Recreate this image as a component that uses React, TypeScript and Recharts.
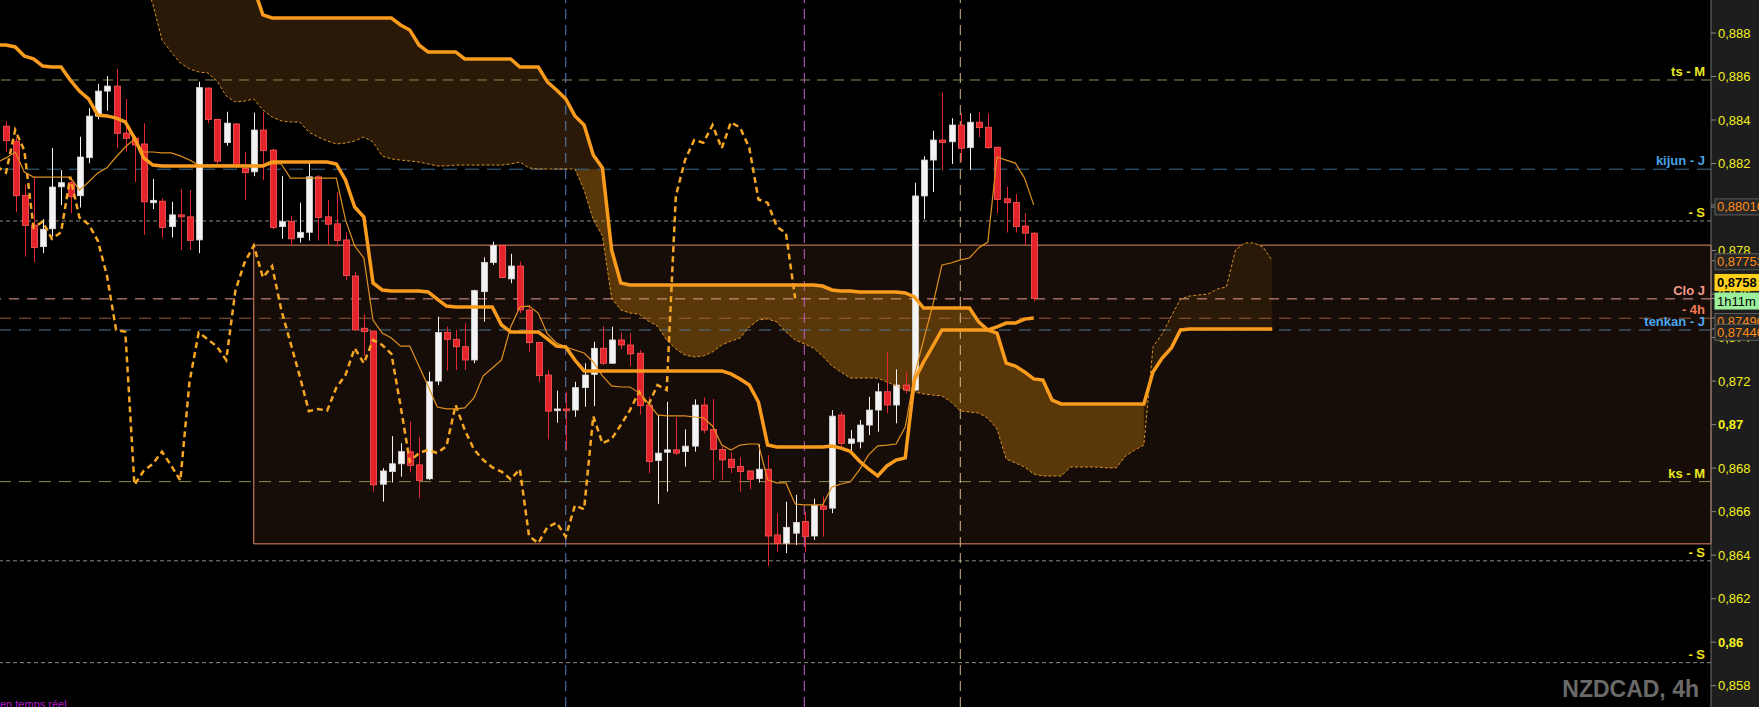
import React from 'react';
import { ComposedChart, Bar, Line, Area, XAxis, YAxis, ReferenceLine, ReferenceArea } from 'recharts';

// NZDCAD 4h candles (index 0 = first visible candle)
const opens = [
  0.88372, 0.88303, 0.88054, 0.87917, 0.87818, 0.879, 0.88093, 0.88112, 0.88052, 0.88227,
  0.88418, 0.88533, 0.88556, 0.8834, 0.88317, 0.8829, 0.8802, 0.88027, 0.8791, 0.87964,
  0.87955, 0.87849, 0.88547, 0.88403, 0.88296, 0.88382, 0.88178, 0.88162, 0.88354, 0.88262,
  0.8791, 0.87933, 0.8786, 0.87884, 0.88139, 0.87955, 0.87923, 0.87849, 0.87683, 0.87443,
  0.8743, 0.86726, 0.86784, 0.8682, 0.86875, 0.86815, 0.86751, 0.872, 0.87423, 0.87392,
  0.87358, 0.87297, 0.87611, 0.87745, 0.87823, 0.8767, 0.87729, 0.87527, 0.87377, 0.87228,
  0.87064, 0.87072, 0.87067, 0.8717, 0.87231, 0.87351, 0.87282, 0.87389, 0.87366, 0.87328,
  0.8709, 0.86835, 0.86873, 0.86884, 0.86876, 0.86901, 0.8709, 0.86978, 0.86886, 0.86841,
  0.86807, 0.86787, 0.86752, 0.86795, 0.86493, 0.86455, 0.86501, 0.86554, 0.86488, 0.86626,
  0.86616, 0.87044, 0.86914, 0.86921, 0.86998, 0.87067, 0.87151, 0.8709, 0.87182, 0.87159,
  0.88051, 0.88216, 0.88308, 0.883, 0.88377, 0.88273, 0.8839, 0.88367, 0.88275, 0.88038,
  0.88021, 0.87913, 0.8788,
];
const highs = [
  0.88395, 0.88322, 0.88104, 0.88139, 0.87944, 0.88271, 0.8817, 0.88132, 0.88323, 0.88454,
  0.88566, 0.88602, 0.88635, 0.88497, 0.88326, 0.88385, 0.88129, 0.8804, 0.88024, 0.88081,
  0.88078, 0.88576, 0.8855, 0.88406, 0.88438, 0.88385, 0.88254, 0.88434, 0.88438, 0.88267,
  0.88142, 0.87959, 0.8802, 0.88204, 0.88147, 0.88032, 0.88069, 0.87884, 0.87703, 0.87507,
  0.87432, 0.868, 0.86947, 0.86914, 0.87013, 0.86944, 0.87243, 0.87496, 0.8745, 0.87435,
  0.87466, 0.8762, 0.87769, 0.87841, 0.87826, 0.87785, 0.87749, 0.8755, 0.8738, 0.87251,
  0.87156, 0.87151, 0.87197, 0.87282, 0.87381, 0.87453, 0.8745, 0.87423, 0.8742, 0.87343,
  0.87128, 0.87044, 0.87105, 0.87033, 0.86978, 0.87116, 0.87125, 0.87118, 0.86898, 0.86873,
  0.8685, 0.8679, 0.86909, 0.86861, 0.86593, 0.86646, 0.86677, 0.866, 0.86659, 0.86669,
  0.87067, 0.87059, 0.86975, 0.87021, 0.87128, 0.8719, 0.87335, 0.87254, 0.87243, 0.88112,
  0.88234, 0.88351, 0.88526, 0.88408, 0.88431, 0.88431, 0.88438, 0.88431, 0.88278, 0.88093,
  0.8806, 0.87972, 0.87887,
];
const lows = [
  0.88254, 0.87976, 0.87772, 0.87746, 0.87788, 0.87864, 0.88009, 0.87972, 0.87998, 0.88201,
  0.88403, 0.88443, 0.8827, 0.88254, 0.88115, 0.87872, 0.87991, 0.8786, 0.8786, 0.87803,
  0.87803, 0.87788, 0.88385, 0.88193, 0.88282, 0.88179, 0.88032, 0.88142, 0.88124, 0.87898,
  0.87854, 0.87826, 0.87837, 0.87846, 0.87846, 0.87826, 0.87818, 0.87665, 0.87432, 0.87315,
  0.86692, 0.86646, 0.86734, 0.86761, 0.8678, 0.86662, 0.86746, 0.87182, 0.87248, 0.87251,
  0.87251, 0.87282, 0.87473, 0.87734, 0.87674, 0.8765, 0.87512, 0.87335, 0.87197, 0.86932,
  0.87009, 0.86884, 0.87036, 0.87082, 0.87085, 0.87274, 0.87279, 0.87346, 0.87269, 0.87047,
  0.86777, 0.86636, 0.86692, 0.86861, 0.86807, 0.86876, 0.8696, 0.86746, 0.86746, 0.86777,
  0.86692, 0.86703, 0.86734, 0.8635, 0.86415, 0.8641, 0.86447, 0.86415, 0.8647, 0.86485,
  0.86593, 0.86891, 0.86875, 0.86891, 0.86952, 0.86967, 0.87052, 0.87006, 0.87144, 0.87155,
  0.87944, 0.88069, 0.8817, 0.88198, 0.88208, 0.8817, 0.88321, 0.88267, 0.87972, 0.87883,
  0.87883, 0.87826, 0.87565,
];
const closes = [
  0.88305, 0.88052, 0.87915, 0.87814, 0.87898, 0.88092, 0.88112, 0.88047, 0.8823, 0.88418,
  0.88533, 0.88556, 0.88339, 0.88316, 0.88285, 0.88024, 0.88031, 0.87906, 0.87964, 0.87955,
  0.87846, 0.88549, 0.88403, 0.88211, 0.88386, 0.88188, 0.88158, 0.88354, 0.88259, 0.87906,
  0.87933, 0.87854, 0.87884, 0.88139, 0.87952, 0.87921, 0.87846, 0.87685, 0.87435, 0.87427,
  0.86723, 0.86787, 0.8682, 0.86876, 0.86812, 0.86743, 0.87197, 0.87423, 0.87392, 0.87358,
  0.87297, 0.87616, 0.87745, 0.87823, 0.87676, 0.87729, 0.87527, 0.87377, 0.87225, 0.87062,
  0.87072, 0.87064, 0.8717, 0.87228, 0.87351, 0.87282, 0.87389, 0.87366, 0.87325, 0.87087,
  0.8683, 0.86869, 0.86884, 0.86869, 0.86901, 0.8709, 0.86975, 0.86886, 0.86838, 0.86803,
  0.86784, 0.86749, 0.86795, 0.86488, 0.86455, 0.86528, 0.8655, 0.86485, 0.86628, 0.86611,
  0.87039, 0.86914, 0.86934, 0.86998, 0.87067, 0.87151, 0.8709, 0.87182, 0.87159, 0.88051,
  0.88216, 0.88308, 0.88296, 0.88377, 0.8827, 0.8839, 0.88365, 0.88273, 0.88035, 0.8802,
  0.8791, 0.8788, 0.8758,
];

// Ichimoku lines
const tenkanSen = [
  0.88226, 0.88253, 0.88161, 0.88138, 0.88138, 0.88138, 0.88138, 0.88138, 0.88078, 0.88115,
  0.88157, 0.8818, 0.8823, 0.88276, 0.88313, 0.88253, 0.88253, 0.88249, 0.88249, 0.88235,
  0.88216, 0.88193, 0.88193, 0.88193, 0.88193, 0.88193, 0.88193, 0.88193, 0.88193, 0.88198,
  0.88198, 0.88133, 0.88133, 0.88133, 0.88133, 0.88133, 0.88133, 0.87941, 0.87821, 0.87766,
  0.87481, 0.87421, 0.87398, 0.87361, 0.87361, 0.8727, 0.87178, 0.87081, 0.87072, 0.87072,
  0.87077, 0.87123, 0.87224, 0.8726, 0.87297, 0.87449, 0.87541, 0.87545, 0.87513, 0.87417,
  0.87375, 0.87357, 0.87343, 0.87329, 0.87288, 0.87224, 0.87178, 0.87173, 0.87173, 0.87146,
  0.87099, 0.87045, 0.8704, 0.8704, 0.8704, 0.87035, 0.87031, 0.86994, 0.86906, 0.86883,
  0.86906, 0.86911, 0.86911, 0.86746, 0.86732, 0.86732, 0.86635, 0.86631, 0.86631, 0.86631,
  0.86713, 0.86727, 0.86736, 0.86792, 0.86861, 0.86902, 0.86906, 0.86911, 0.86989, 0.87228,
  0.87389, 0.8755, 0.87734, 0.87743, 0.87757, 0.87766, 0.87812, 0.87839, 0.8823, 0.88216,
  0.88202, 0.88133, 0.8801,
];
const kijunSen = [
  0.88745, 0.88736, 0.88694, 0.88681, 0.88648, 0.88644, 0.88644, 0.88584, 0.88533, 0.88497,
  0.88423, 0.88419, 0.88409, 0.88391, 0.88317, 0.88226, 0.88193, 0.88189, 0.88189, 0.88189,
  0.88189, 0.88189, 0.88189, 0.88189, 0.88189, 0.88189, 0.88189, 0.88189, 0.88189, 0.88207,
  0.88207, 0.88207, 0.88207, 0.88207, 0.88207, 0.88207, 0.88198, 0.88124, 0.88, 0.87954,
  0.87651, 0.87619, 0.87614, 0.87614, 0.87614, 0.87614, 0.8761, 0.87577, 0.87545, 0.87541,
  0.87541, 0.87541, 0.87541, 0.87541, 0.87458, 0.87426, 0.87426, 0.87426, 0.87426, 0.87394,
  0.87361, 0.87357, 0.87297, 0.87247, 0.87247, 0.87247, 0.87247, 0.87247, 0.87247, 0.87247,
  0.87247, 0.87247, 0.87247, 0.87247, 0.87247, 0.87247, 0.87247, 0.87247, 0.87247, 0.87233,
  0.8721, 0.87182, 0.87104, 0.86906, 0.86897, 0.86897, 0.86897, 0.86897, 0.86897, 0.86897,
  0.86902, 0.86892, 0.86877, 0.86833, 0.86796, 0.86764, 0.8681, 0.86837, 0.86847, 0.87205,
  0.87288, 0.87361, 0.87435, 0.87435, 0.87435, 0.87435, 0.87435, 0.87435, 0.87449, 0.87467,
  0.87467, 0.87485, 0.8749,
];
// values of the bar just left of the visible range (only its lines show at the edge)
const tenkanBefore = 0.88205;
const kijunBefore = 0.88745;

const senkouA = [
  null, null, null, null, null, null, null, null, null, null,
  null, null, null, null, 0.89172, 0.89053, 0.88933, 0.88768, 0.88713, 0.88662,
  0.88635, 0.88621, 0.88616, 0.88579, 0.8851, 0.88483, 0.88487, 0.88497, 0.88446, 0.88414,
  0.88396, 0.88391, 0.88391, 0.88345, 0.88322, 0.88304, 0.8829, 0.88294, 0.88304, 0.88322,
  0.88299, 0.88235, 0.88221, 0.88216, 0.88212, 0.88207, 0.88198, 0.88189, 0.88189, 0.88193,
  0.88193, 0.88193, 0.88193, 0.88193, 0.88193, 0.88198, 0.88207, 0.8818, 0.88175, 0.88175,
  0.88175, 0.88175, 0.88175, 0.88078, 0.87941, 0.87867, 0.87582, 0.87527, 0.87513, 0.87508,
  0.87476, 0.87453, 0.87389, 0.87348, 0.8732, 0.87311, 0.87316, 0.87334, 0.87366, 0.87384,
  0.87398, 0.87449, 0.87481, 0.87486, 0.87472, 0.87426, 0.87389, 0.87371, 0.87352, 0.87315,
  0.8727, 0.87242, 0.87214, 0.87214, 0.87214, 0.87214, 0.87196, 0.87178, 0.87159, 0.8715,
  0.87141, 0.87136, 0.87132, 0.87104, 0.87063, 0.87058, 0.87053, 0.8703, 0.8698, 0.86842,
  0.86824, 0.86805, 0.86773, 0.86764, 0.86764, 0.86764, 0.86805, 0.86805, 0.86805, 0.86805,
  0.86801, 0.86801, 0.86856, 0.86883, 0.86906, 0.87357, 0.87417, 0.87499, 0.87577, 0.87591,
  0.87596, 0.876, 0.87623, 0.87633, 0.87803, 0.87835, 0.87835, 0.87816, 0.87753,
];
const senkouB = [
  null, null, null, null, null, null, null, null, null, null,
  null, null, null, null, 0.892, 0.892, 0.892, 0.892, 0.892, 0.892,
  0.892, 0.892, 0.892, 0.892, 0.892, 0.892, 0.892, 0.89007, 0.88883, 0.88869,
  0.88869, 0.88869, 0.88869, 0.88869, 0.88869, 0.88869, 0.88869, 0.88869, 0.88869, 0.88869,
  0.88869, 0.88869, 0.88869, 0.88837, 0.88814, 0.88745, 0.88713, 0.88713, 0.88713, 0.88713,
  0.88681, 0.88681, 0.88681, 0.88681, 0.88681, 0.88681, 0.88644, 0.88644, 0.88644, 0.88575,
  0.88538, 0.88497, 0.88419, 0.88377, 0.88239, 0.8818, 0.87803, 0.87651, 0.87642, 0.87642,
  0.87642, 0.87642, 0.87642, 0.87642, 0.87642, 0.87642, 0.87642, 0.87642, 0.87642, 0.87642,
  0.87642, 0.87642, 0.87642, 0.87642, 0.87642, 0.87642, 0.87642, 0.87642, 0.87642, 0.87637,
  0.87619, 0.87614, 0.87614, 0.8761, 0.8761, 0.8761, 0.8761, 0.8761, 0.87605, 0.87587,
  0.87536, 0.87536, 0.87536, 0.87536, 0.87536, 0.87536, 0.87472, 0.87435, 0.87421, 0.87283,
  0.87269, 0.87242, 0.8721, 0.87205, 0.87113, 0.87095, 0.87095, 0.87095, 0.87095, 0.87095,
  0.87095, 0.87095, 0.87095, 0.87095, 0.87095, 0.87242, 0.87306, 0.87352, 0.87435, 0.8744,
  0.8744, 0.8744, 0.8744, 0.8744, 0.8744, 0.8744, 0.8744, 0.8744, 0.8744,
];
const chikouShift = 26;
const brightFrom = 62;
const brightTo = 124;

const yTicks = [0.858, 0.86, 0.862, 0.864, 0.866, 0.868, 0.87, 0.872, 0.874, 0.876, 0.878, 0.88, 0.882, 0.884, 0.886, 0.888];

// horizontal levels drawn across the chart
const levelPrices = [0.88584, 0.88174, 0.87936, 0.87578, 0.87489, 0.87435, 0.86738, 0.86374, 0.85906];
const levelNames = ['ts - M', 'kijun - J', '- S', 'Clo J', '- 4h', 'tenkan - J', 'ks - M', '- S', '- S'];
const separatorBars = [61, 87, 104];
const boxTop = 0.87825;
const boxBottom = 0.86452;
const boxStart = 27;

const tagPrices = [0.8801, 0.87753, 0.8749, 0.8744];
const tagTexts = ['0,88010', '0,87753', '0,87490', '0,87440'];
const lastPrice = 0.8758;
const lastText = '0,8758';
const countdown = '1h11m';

const leadRow = {
  i: -1,
  range: null,
  open: null,
  high: null,
  low: null,
  close: null,
  tenkan: tenkanBefore,
  kijun: kijunBefore,
  chikou: closes[chikouShift - 1],
  spanA: null,
  spanB: null,
  cloud: null,
  bright: null,
};

const rows = [
  leadRow,
  ...senkouA.map((a, i) => {
    const has = i < closes.length;
    const b = senkouB[i];
    return {
      i,
      range: has ? [lows[i], highs[i]] : null,
      open: has ? opens[i] : null,
      high: has ? highs[i] : null,
      low: has ? lows[i] : null,
      close: has ? closes[i] : null,
      tenkan: has ? tenkanSen[i] : null,
      kijun: has ? kijunSen[i] : null,
      chikou: i + chikouShift < closes.length ? closes[i + chikouShift] : null,
      spanA: a,
      spanB: b,
      cloud: a != null && b != null ? [a, b] : null,
      bright: a != null && b != null && i >= brightFrom && i <= brightTo ? [a, Math.min(b, levelPrices[1])] : null,
    };
  }),
];

const FONT = "'Liberation Sans', Arial, Helvetica, sans-serif";
const X_DOMAIN: [number, number] = [-0.654, 185.81];
const Y_DOMAIN: [number, number] = [0.857021, 0.889517];

const levelStyles = [
  { line: '#8c8c52', text: '#ecea1e', dash: '10 7' },
  { line: '#3d6a8c', text: '#4aa3e6', dash: '14 8' },
  { line: '#8d8d78', text: '#f2e21a', dash: '4 3' },
  { line: '#e6a090', text: '#f29a8a', dash: '10 8' },
  { line: '#9c5c3c', text: '#f07a50', dash: '12 8' },
  { line: '#4a7898', text: '#48a8f0', dash: '12 8' },
  { line: '#8e8e4c', text: '#ecea1e', dash: '12 8' },
  { line: '#8d8d78', text: '#f2e21a', dash: '4 3' },
  { line: '#8d8d78', text: '#f2e21a', dash: '4 3' },
];
const separatorColors = ['#5a80c8', '#c060c8', '#d8b488'];
const tagOffsets = [2, 1, 3.5, 3.4];

const fmtTick = (v: number) => String(Number(v.toFixed(3))).replace('.', ',');

const AxisTick = (props: any) => {
  const { x, y, payload } = props;
  const v = payload.value as number;
  const round = Math.abs(v * 100 - Math.round(v * 100)) < 1e-6;
  return (
    <text x={x} y={y} dy={4.5} fill="#f2f01e" fontSize={13} fontWeight={round ? 'bold' : 'normal'} fontFamily={FONT} textAnchor="start">
      {fmtTick(v)}
    </text>
  );
};

const Candle = (props: any) => {
  const { x, y, width, height, payload } = props;
  if (!payload || payload.open == null || !height) return <g />;
  const { open, close, high, low } = payload;
  const cx = Math.round(x + width / 2) + 0.5;
  const k = height / (high - low);
  const yO = y + (high - open) * k;
  const yC = y + (high - close) * k;
  const up = close >= open;
  const top = Math.min(yO, yC);
  const h = Math.max(Math.abs(yC - yO), 1.5);
  return (
    <g>
      <line x1={cx} x2={cx} y1={y} y2={y + height} stroke={up ? '#f4f4f4' : '#e4262e'} strokeWidth={1} />
      <rect x={cx - 3} y={top} width={6} height={h} fill={up ? '#f3f3f3' : '#e4232b'} stroke={up ? '#d6d6d6' : '#ff5a5a'} strokeWidth={0.8} />
    </g>
  );
};

const levelLabel = (text: string, color: string) => (props: any) => {
  const vb = props.viewBox ?? {};
  return (
    <text x={vb.x + vb.width - 6} y={vb.y - 4} textAnchor="end" fill={color} fontSize={13} fontWeight="bold" fontFamily={FONT}>
      {text}
    </text>
  );
};

const tagLabel = (text: string, kind: string, dy: number) => (props: any) => {
  const vb = props.viewBox ?? {};
  const ax = vb.x + vb.width;
  const cy = vb.y + dy;
  const fill = kind === 'last' ? '#ffd11a' : kind === 'timer' ? '#9cf09c' : '#262626';
  const stroke = kind === 'plain' ? '#5e5e5e' : fill;
  const color = kind === 'plain' ? '#ff8c14' : '#000';
  return (
    <g>
      <line x1={ax} x2={ax + 4} y1={vb.y} y2={vb.y} stroke="#8a8a8a" />
      <rect x={ax + 4} y={cy - 8} width={60} height={16} fill={fill} stroke={stroke} />
      <text x={ax + 6} y={cy + 4.5} fill={color} fontSize={13} fontWeight={kind === 'last' ? 'bold' : 'normal'} fontFamily={FONT}>
        {text}
      </text>
    </g>
  );
};

export default function App() {
  return (
    <div style={{ position: 'fixed', left: 0, top: 0, width: 1759, height: 707, background: '#000', overflow: 'hidden' }}>
      <div style={{ position: 'absolute', left: 1711, top: 0, width: 48, height: 707, background: '#1d1d1d' }} />
      <div style={{ position: 'absolute', left: 0, top: 0 }}>
        <ComposedChart width={1759} height={707} data={rows} margin={{ top: 0, right: 0, bottom: 0, left: 0 }}>
          <XAxis dataKey="i" type="number" domain={X_DOMAIN} allowDataOverflow hide />
          <YAxis
            orientation="right"
            width={48}
            domain={Y_DOMAIN}
            allowDataOverflow
            ticks={yTicks}
            interval={0}
            tickSize={5}
            tickLine={{ stroke: '#8a8a8a' }}
            axisLine={{ stroke: '#6e6e6e' }}
            tick={<AxisTick />}
          />
          <ReferenceArea
            x1={boxStart}
            x2={X_DOMAIN[1]}
            y1={boxBottom}
            y2={boxTop}
            fill="#170d08"
            fillOpacity={1}
            stroke="#e88a66"
            strokeWidth={1}
            zIndex={10}
          />
          <Area dataKey="cloud" type="linear" fill="#2a1906" fillOpacity={1} stroke="none" dot={false} activeDot={false} isAnimationActive={false} zIndex={20} />
          <Area dataKey="bright" type="linear" fill="#5a3708" fillOpacity={1} stroke="none" dot={false} activeDot={false} isAnimationActive={false} zIndex={30} />
          {levelPrices.map((v, k) => (
            <ReferenceLine
              key={`lvl-${k}`}
              y={v}
              stroke={levelStyles[k].line}
              strokeDasharray={levelStyles[k].dash}
              strokeWidth={1}
              zIndex={40}
              label={levelLabel(levelNames[k], levelStyles[k].text)}
            />
          ))}
          {separatorBars.map((b, k) => (
            <ReferenceLine key={`sep-${k}`} x={b} stroke={separatorColors[k]} strokeDasharray="10 6" strokeWidth={1} zIndex={40} />
          ))}
          <Bar dataKey="range" barSize={6} shape={<Candle />} isAnimationActive={false} zIndex={300} />
          <Line dataKey="spanA" type="linear" stroke="#d89028" strokeWidth={1} strokeDasharray="3 2" dot={false} activeDot={false} isAnimationActive={false} zIndex={400} />
          <Line dataKey="chikou" type="linear" stroke="#f5a623" strokeWidth={2.5} strokeDasharray="6 4" dot={false} activeDot={false} isAnimationActive={false} zIndex={400} />
          <Line dataKey="tenkan" type="linear" stroke="#e0901e" strokeWidth={1.2} dot={false} activeDot={false} isAnimationActive={false} zIndex={400} />
          <Line dataKey="spanB" type="linear" stroke="#f99b1c" strokeWidth={3.5} dot={false} activeDot={false} isAnimationActive={false} zIndex={400} />
          <Line dataKey="kijun" type="linear" stroke="#f99b1c" strokeWidth={3.5} dot={false} activeDot={false} isAnimationActive={false} zIndex={400} />
          {tagPrices.map((v, k) => (
            <ReferenceLine key={`tag-${k}`} y={v} stroke="none" zIndex={2500} label={tagLabel(tagTexts[k], 'plain', tagOffsets[k])} />
          ))}
          <ReferenceLine y={lastPrice} stroke="none" zIndex={2500} label={tagLabel(lastText, 'last', -16)} />
          <ReferenceLine y={lastPrice} stroke="none" zIndex={2500} label={tagLabel(countdown, 'timer', 2.6)} />
        </ComposedChart>
      </div>
      <svg style={{ position: 'absolute', left: 0, top: 0, pointerEvents: 'none' }} width={1759} height={707}>
        <text x={1699} y={697} textAnchor="end" fill="#6a6a6a" fontSize={23} fontWeight="bold" fontFamily={FONT}>
          NZDCAD, 4h
        </text>
        <text x={0} y={708} fill="#b818d0" fontSize={11} fontFamily={FONT}>
          en temps réel
        </text>
      </svg>
    </div>
  );
}
